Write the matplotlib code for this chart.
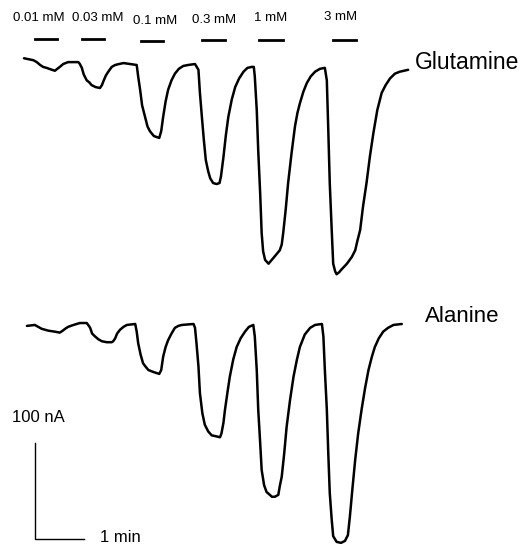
import matplotlib.pyplot as plt

plt.rcParams['font.family'] = ['Liberation Sans', 'DejaVu Sans']

# Glutamine trace: time (min) and current (nA, relative to start)
glu_t = [0.00, 0.19, 0.26, 0.33, 0.39, 0.46, 0.57, 0.63, 0.68, 0.73, 0.80, 0.90,
         1.01, 1.11, 1.14, 1.18, 1.22, 1.28, 1.33, 1.38, 1.46, 1.55, 1.59, 1.62,
         1.67, 1.72, 1.79, 1.86, 1.94, 2.03,
         2.30, 2.33, 2.37, 2.41, 2.47, 2.52, 2.57, 2.65, 2.76, 2.80, 2.84, 2.89,
         2.94, 3.01, 3.08, 3.16, 3.25, 3.35, 3.49,
         3.56, 3.59, 3.63, 3.67, 3.71, 3.76, 3.80, 3.86, 3.93, 3.99, 4.02, 4.07,
         4.12, 4.17, 4.24, 4.31, 4.39, 4.48, 4.56, 4.65, 4.69,
         4.71, 4.75, 4.78, 4.82, 4.85, 4.88, 4.92, 4.99, 5.09, 5.22, 5.26, 5.29,
         5.34, 5.39, 5.46, 5.53, 5.58, 5.63, 5.70, 5.77, 5.85, 5.94, 6.04, 6.14,
         6.18, 6.21, 6.24, 6.28, 6.31, 6.35, 6.38, 6.43, 6.48, 6.59, 6.69, 6.76,
         6.80, 6.86, 6.92, 6.99, 7.06, 7.13, 7.21, 7.30, 7.38, 7.47, 7.57, 7.67,
         7.84]
glu_i = [0, -2, -4, -7, -9, -10, -12, -13, -11, -9, -6, -4,
         -4, -4, -6, -10, -17, -23, -25, -28, -30, -31, -28, -24,
         -18, -14, -9, -7, -6, -5,
         -7, -19, -33, -49, -61, -71, -76, -81, -83, -76, -61, -45,
         -33, -23, -16, -11, -8, -7, -6,
         -12, -36, -61, -85, -106, -118, -125, -130, -131, -130, -123, -103,
         -80, -61, -43, -30, -21, -14, -10, -9, -9,
         -19, -54, -96, -141, -182, -201, -210, -214, -208, -200, -194, -182,
         -158, -130, -99, -71, -57, -47, -35, -26, -19, -14, -11, -10,
         -23, -75, -130, -179, -214, -222, -225, -223, -220, -214, -207, -200,
         -191, -179, -154, -130, -102, -78, -54, -36, -28, -21, -16, -14,
         -12]

# Alanine trace
ala_t = [0.06, 0.22, 0.29, 0.36, 0.50, 0.63, 0.73, 0.79, 0.84, 0.90, 1.01, 1.14,
         1.28, 1.31, 1.35, 1.39, 1.45, 1.52, 1.59, 1.69, 1.79, 1.82, 1.86, 1.90,
         1.96, 2.03, 2.10, 2.27,
         2.30, 2.33, 2.38, 2.43, 2.49, 2.54, 2.64, 2.76, 2.80, 2.84, 2.89, 2.94,
         3.01, 3.08, 3.15, 3.22, 3.46,
         3.49, 3.52, 3.56, 3.59, 3.64, 3.69, 3.76, 3.83, 3.92, 4.00, 4.03, 4.07,
         4.10, 4.15, 4.20, 4.27, 4.34, 4.42, 4.51, 4.59, 4.68,
         4.71, 4.75, 4.78, 4.82, 4.85, 4.90, 4.95, 5.06, 5.12, 5.19, 5.22, 5.26,
         5.31, 5.36, 5.43, 5.50, 5.57, 5.63, 5.73, 5.84, 5.94, 6.08,
         6.11, 6.14, 6.18, 6.21, 6.24, 6.28, 6.31, 6.38, 6.47, 6.55, 6.61, 6.65,
         6.70, 6.76, 6.82, 6.89, 6.96, 7.03, 7.10, 7.16, 7.24, 7.33, 7.43, 7.54,
         7.71]
ala_i = [-1, 0, -2, -4, -6, -7, -8, -6, -4, -2, 0, 2,
         2, 0, -3, -9, -12, -15, -17, -18, -18, -17, -14, -9,
         -5, -2, 0, 1,
         -7, -19, -31, -40, -44, -47, -49, -51, -47, -33, -23, -16,
         -9, -3, -1, 0, 1,
         -3, -19, -43, -71, -92, -104, -111, -115, -116, -117, -113, -102,
         -89, -71, -54, -36, -23, -14, -7, -2, 0,
         -12, -47, -88, -123, -151, -167, -174, -179, -179, -177, -168, -158,
         -134, -106, -78, -54, -36, -23, -10, -3, 0, 1,
         -12, -47, -88, -134, -175, -203, -220, -226, -227, -225, -219, -200,
         -172, -140, -113, -88, -66, -47, -33, -23, -14, -7, -3, 0,
         1]

# application periods (min)
conc_labels = ['0.01 mM', '0.03 mM', '0.1 mM', '0.3 mM', '1 mM', '3 mM']
bar_start = [0.22, 1.18, 2.38, 3.64, 4.80, 6.31]
bar_end = [0.67, 1.63, 2.84, 4.10, 5.28, 6.78]

# layout (not data)
glu_offset = -60.7
ala_offset = -338.5
label_x = [0.31, 1.50, 2.67, 3.87, 5.03, 6.46]
label_y = [-19.0, -18.5, -21.5, -21.0, -18.5, -17.5]
bar_y = [-41.0, -41.0, -42.5, -41.5, -41.5, -41.5]

fig = plt.figure(figsize=(5.26, 5.44), dpi=100)
ax = fig.add_axes([0, 0, 1, 1])
ax.set_xlim(-0.49, 10.245)
ax.set_ylim(-566.7, 0)
ax.axis('off')

ax.plot(glu_t, [v + glu_offset for v in glu_i], color='black', lw=1.8,
        solid_joinstyle='round', solid_capstyle='round')
ax.plot(ala_t, [v + ala_offset for v in ala_i], color='black', lw=1.8,
        solid_joinstyle='round', solid_capstyle='round')

for lab, x0, x1, lx, ly, by in zip(conc_labels, bar_start, bar_end, label_x, label_y, bar_y):
    ax.plot([x0, x1], [by, by], color='black', lw=2.0)
    ax.text(lx, ly, lab, fontsize=9.5, ha='center', va='center')

ax.text(7.98, -65.6, 'Glutamine', fontsize=16.5, ha='left', va='center')
ax.text(8.18, -330, 'Alanine', fontsize=16, ha='left', va='center')

# scale bar: 100 nA, 1 min
sx, sy = 0.224, -561.5
ax.plot([sx, sx, sx + 1.0], [sy + 100, sy, sy], color='black', lw=1.0)
ax.text(-0.25, -435.4, '100 nA', fontsize=12, ha='left', va='center')
ax.text(1.55, -564.5, '1 min', fontsize=12, ha='left', va='baseline')

fig.savefig('out.png', dpi=100)
